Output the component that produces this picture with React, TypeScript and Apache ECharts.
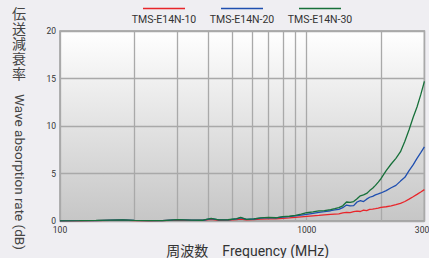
import React, { useEffect, useRef } from "react";
import * as echarts from "echarts";

const frequencies = [
  100, 120, 140, 160, 180, 200, 230, 260, 300, 340,
  380, 410, 440, 480, 520, 540, 570, 610, 650, 700,
  750, 800, 850, 900, 950, 1000, 1060, 1120, 1180, 1250,
  1300, 1350, 1400, 1450, 1500, 1550, 1600, 1650, 1700, 1750,
  1800, 1850, 1900, 1950, 2000, 2100, 2200, 2300, 2400, 2500,
  2600, 2700, 2800, 2900, 3000,
];

const red10 = [
  0.02, 0.02, 0.04, 0.07, 0.09, 0.05, 0.02, 0.04, 0.1, 0.07,
  0.06, 0.17, 0.08, 0.09, 0.15, 0.2, 0.12, 0.15, 0.2, 0.22,
  0.22, 0.28, 0.32, 0.38, 0.43, 0.48, 0.55, 0.6, 0.65, 0.7,
  0.72, 0.74, 0.85, 0.9, 0.88, 0.98, 1.05, 1.0, 1.15, 1.1,
  1.22, 1.25, 1.3, 1.35, 1.44, 1.5, 1.6, 1.72, 1.85, 2.05,
  2.3, 2.55, 2.8, 3.05, 3.3,
];

const blue20 = [
  0.02, 0.03, 0.05, 0.09, 0.11, 0.06, 0.03, 0.05, 0.14, 0.09,
  0.08, 0.25, 0.11, 0.12, 0.23, 0.34, 0.17, 0.21, 0.3, 0.35,
  0.32, 0.42, 0.46, 0.54, 0.62, 0.7, 0.8, 0.9, 0.98, 1.08,
  1.18, 1.22, 1.4, 1.68, 1.6, 1.62, 2.0, 2.15, 2.05, 2.3,
  2.5, 2.6, 2.75, 2.85, 2.95, 3.2, 3.5, 3.75, 4.2, 4.6,
  5.3, 5.9, 6.6, 7.2, 7.8,
];

const green30 = [
  0.02, 0.03, 0.06, 0.1, 0.12, 0.06, 0.03, 0.05, 0.15, 0.1,
  0.08, 0.27, 0.12, 0.13, 0.25, 0.37, 0.18, 0.22, 0.32, 0.38,
  0.34, 0.45, 0.5, 0.6, 0.72, 0.87, 0.97, 1.07, 1.1, 1.2,
  1.3, 1.4, 1.6, 2.0, 1.95, 2.05, 2.35, 2.65, 2.75, 2.9,
  3.2, 3.45, 3.75, 4.1, 4.45, 5.3, 6.0, 6.6, 7.3, 8.4,
  9.6, 10.9, 12.0, 13.3, 14.7,
];

const seriesNames = ["TMS-E14N-10", "TMS-E14N-20", "TMS-E14N-30"];
const seriesColors = ["#e8262b", "#1f4fb0", "#17703a"];
const minorGridFrequencies = [200, 300, 400, 500, 600, 700, 800, 900, 2000];
const yNameCJK = "伝送減衰率";
const yNameEn = "Wave absorption rate (dB)";
const xName = "周波数　Frequency (MHz)";

const LATIN = 'Roboto, "Noto Sans CJK JP", sans-serif';
const CJK = '"Noto Sans CJK JP", sans-serif';

export default function App() {
  const ref = useRef<HTMLDivElement>(null);

  useEffect(() => {
    const chart = echarts.init(ref.current!, null, { renderer: "svg" });
    const allValues = [red10, blue20, green30];

    const series: any[] = allValues.map((vals, i) => ({
      name: seriesNames[i],
      type: "line",
      data: frequencies.map((f, j) => [f, vals[j]]),
      showSymbol: false,
      symbol: "none",
      lineStyle: { color: seriesColors[i], width: 1.3 },
      itemStyle: { color: seriesColors[i] },
      z: 3,
      ...(i === 0
        ? {
            markLine: {
              silent: true,
              symbol: "none",
              z: 1,
              label: { show: false },
              lineStyle: { color: "#a9a9a9", width: 1.3, type: "solid" },
              data: minorGridFrequencies.map((f) => ({ xAxis: f })),
            },
          }
        : {}),
    }));

    const legendCenters = [164, 242, 320];
    const graphic: any[] = [];
    seriesNames.forEach((name, i) => {
      const cx = legendCenters[i];
      graphic.push({
        type: "line",
        shape: { x1: cx - 21, y1: 8.5, x2: cx + 21, y2: 8.5 },
        style: { stroke: seriesColors[i], lineWidth: 1.5 },
      });
      graphic.push({
        type: "text",
        x: cx,
        y: 19,
        style: {
          text: name,
          fill: "#333",
          fontSize: 10.5,
          fontFamily: LATIN,
          align: "center",
          verticalAlign: "middle",
        },
      });
    });
    yNameCJK.split("").forEach((ch, i) => {
      graphic.push({
        type: "text",
        x: 19,
        y: 12.5 + i * 15,
        style: {
          text: ch,
          fill: "#444",
          fontSize: 14,
          fontFamily: CJK,
          align: "center",
          verticalAlign: "middle",
        },
      });
    });
    graphic.push({
      type: "text",
      x: 20,
      y: 172,
      rotation: -Math.PI / 2,
      style: {
        text: yNameEn,
        fill: "#444",
        fontSize: 13.5,
        fontFamily: LATIN,
        align: "center",
        verticalAlign: "middle",
      },
    });

    chart.setOption({
      animation: false,
      backgroundColor: "#efeef2",
      grid: {
        left: 60,
        right: 4.6,
        top: 31,
        bottom: 37,
        outerBoundsMode: "none",
        containLabel: false,
        show: true,
        backgroundColor: new echarts.graphic.LinearGradient(0, 0, 0, 1, [
          { offset: 0, color: "#ffffff" },
          { offset: 1, color: "#c6c6c6" },
        ]),
        borderColor: "#9c9c9c",
        borderWidth: 1.5,
      },
      xAxis: {
        type: "log",
        logBase: 10,
        min: 100,
        max: 3000,
        name: xName,
        nameLocation: "middle",
        nameGap: 23,
        nameTextStyle: {
          fontSize: 14,
          color: "#333",
          fontFamily: LATIN,
          padding: [0, 0, 0, 11],
        },
        axisLine: { show: false },
        axisTick: { show: false },
        axisLabel: {
          fontSize: 8.5,
          color: "#333",
          margin: 5,
          fontFamily: LATIN,
          showMaxLabel: true,
          showMinLabel: true,
          formatter: (v: number) => String(Math.round(v)),
        },
        splitLine: { show: true, lineStyle: { color: "#a9a9a9", width: 1.3 } },
      },
      yAxis: {
        type: "value",
        min: 0,
        max: 20,
        interval: 5,
        axisLine: { show: false },
        axisTick: { show: false },
        axisLabel: { fontSize: 8.5, color: "#333", margin: 4, fontFamily: LATIN },
        splitLine: { show: true, lineStyle: { color: "#a9a9a9", width: 1.3 } },
      },
      graphic,
      series,
    });

    return () => chart.dispose();
  }, []);

  return (
    <div
      ref={ref}
      style={{ position: "fixed", left: 0, top: 0, width: 429, height: 258 }}
    />
  );
}
